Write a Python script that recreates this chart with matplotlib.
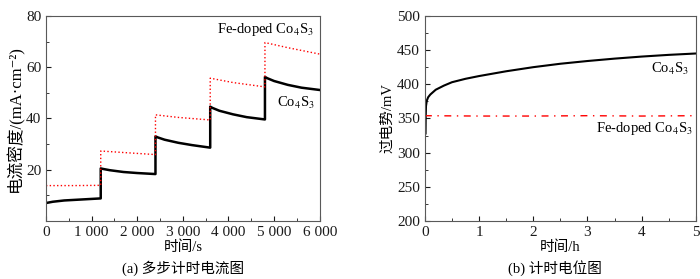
import matplotlib
matplotlib.use('Agg')
import matplotlib.pyplot as plt
from matplotlib.ticker import MultipleLocator

plt.rcParams['font.family'] = ['Liberation Serif', 'Noto Sans CJK SC', 'DejaVu Serif']
plt.rcParams['mathtext.fontset'] = 'stix'

# (a) multi-step chronoamperometry
co_t = [0, 150, 400, 700, 1000, 1200, 1200, 1250, 1400, 1700, 2000, 2400, 2400, 2450,
        2600, 2900, 3200, 3600, 3600, 3650, 3800, 4100, 4400, 4800, 4800, 4850, 5000,
        5300, 5600, 6000]
co_j = [7.0, 7.5, 8.0, 8.3, 8.6, 8.8, 20.5, 20.3, 19.8, 19.1, 18.7, 18.3, 33.0, 32.6,
        31.7, 30.5, 29.6, 28.6, 44.6, 44.1, 43.0, 41.6, 40.5, 39.6, 56.2, 55.7, 54.6,
        53.1, 52.0, 51.1]
fe_t = [0, 600, 1200, 1200, 1700, 2400, 2400, 2900, 3600, 3600, 4100, 4800, 4800,
        5300, 6000]
fe_j = [13.8, 13.8, 13.9, 27.3, 26.7, 25.9, 41.4, 40.4, 39.4, 55.7, 54.0, 52.3, 69.6,
        67.6, 65.1]
a_xticks = [0, 1000, 2000, 3000, 4000, 5000, 6000]
a_xlabels = ['0', '1 000', '2 000', '3 000', '4 000', '5 000', '6 000']

# (b) chronopotentiometry
co_h = [0.012, 0.015, 0.02, 0.035, 0.06, 0.1, 0.2, 0.35, 0.5, 0.75, 1.0, 1.5, 2.0, 2.5,
        3.0, 3.5, 4.0, 4.5, 5.0]
co_v = [328, 352, 368, 376, 381, 385, 392, 398, 403, 408, 412, 419, 425, 430, 434,
        437.5, 440.5, 443, 445]
fe_h = [0.0, 1.0, 2.0, 3.0, 4.0, 5.0]
fe_v = [354, 353.5, 353.5, 354, 353.5, 354]

fig = plt.figure(figsize=(7, 2.79), dpi=100)
ax1 = fig.add_axes([0.0657, 0.208, 0.391, 0.735])
ax2 = fig.add_axes([0.607, 0.208, 0.387, 0.735])

ax1.plot(co_t, co_j, color='black', lw=1.8)
ax1.plot(fe_t, fe_j, color='red', lw=1.0, ls=':')
ax1.set_xlim(0, 6000)
ax1.set_ylim(0, 80)
ax1.set_xticks(a_xticks)
ax1.set_xticklabels(a_xlabels)
ax1.set_yticks([20, 40, 60, 80])
ax1.xaxis.set_minor_locator(MultipleLocator(500))
ax1.yaxis.set_minor_locator(MultipleLocator(10))
ax1.set_xlabel('时间/s', fontsize=10.5, labelpad=1)
ax1.set_ylabel('电流密度/(mA·cm⁻²)', fontsize=12, labelpad=1)
ax1.text(5880, 71.5, 'Fe-doped Co$_4$S$_3$', ha='right', va='bottom', fontsize=10.5)
ax1.text(5900, 46, 'Co$_4$S$_3$', ha='right', va='center', fontsize=10.5)

ax2.plot(co_h, co_v, color='black', lw=1.5)
ax2.plot(fe_h, fe_v, color='red', lw=1.0, ls=(0, (5, 4, 1, 4)))
ax2.set_xlim(0, 5)
ax2.set_ylim(200, 500)
ax2.xaxis.set_minor_locator(MultipleLocator(0.5))
ax2.yaxis.set_minor_locator(MultipleLocator(25))
ax2.set_xlabel('时间/h', fontsize=10.5, labelpad=1)
ax2.set_ylabel('过电势/mV', fontsize=10.5, labelpad=2)
ax2.text(4.88, 423, 'Co$_4$S$_3$', ha='right', va='center', fontsize=10.5)
ax2.text(4.95, 335, 'Fe-doped Co$_4$S$_3$', ha='right', va='center', fontsize=10.5)

fig.text(183 / 700, 0.04, '(a) 多步计时电流图', ha='center', va='center', fontsize=10.5)
fig.text(555 / 700, 0.04, '(b) 计时电位图', ha='center', va='center', fontsize=10.5)

for ax in (ax1, ax2):
    for s in ax.spines.values():
        s.set_color('0.35')
    ax.tick_params(which='both', direction='in', top=False, right=False,
                   labelsize=11, colors='0.1')
    ax.tick_params(which='major', length=3.5)
    ax.tick_params(which='minor', length=2)

fig.savefig('out.png', dpi=100)
